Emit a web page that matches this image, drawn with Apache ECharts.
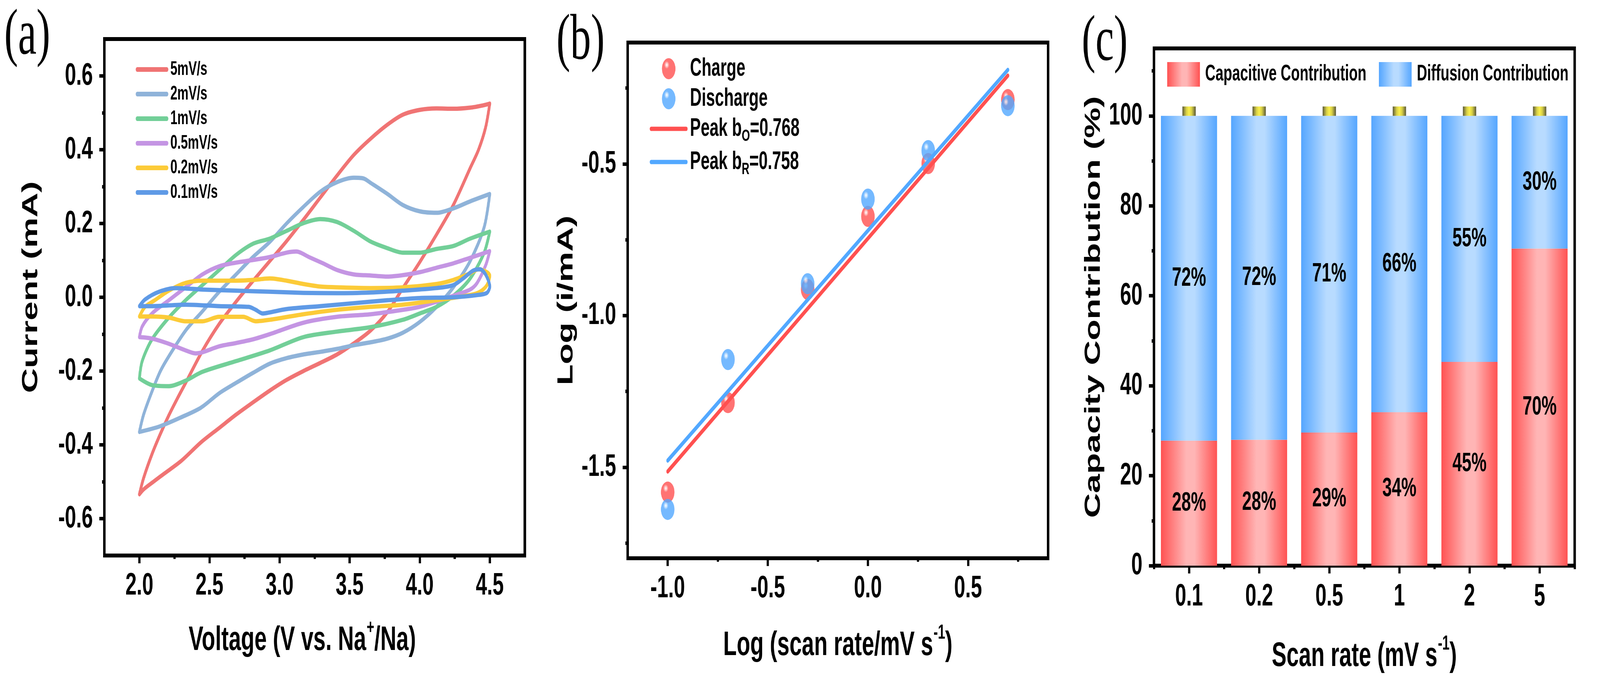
<!DOCTYPE html>
<html>
<head>
<meta charset="utf-8">
<script src="https://cdn.jsdelivr.net/npm/echarts@6/dist/echarts.min.js"></script>
<style>
html,body{margin:0;padding:0;background:#fff;overflow:hidden;}
#wrap{position:absolute;left:0;top:0;width:6378px;height:1747px;transform-origin:0 0;}
#chart{width:6378px;height:1747px;}
</style>
</head>
<body>
<div id="wrap"><div id="chart"></div></div>
<script>
// ---------------- DATA ----------------
// Panel (a): CV loops, [voltage (V), current (mA)]
const cv5 = [[2.0,-0.534],[2.03,-0.49],[2.09,-0.425],[2.15,-0.37],[2.21,-0.32],[2.27,-0.275],[2.33,-0.232],[2.45,-0.145],[2.57,-0.072],[2.69,-0.012],[2.81,0.044],[2.93,0.098],[3.05,0.152],[3.17,0.21],[3.29,0.27],[3.41,0.33],[3.53,0.386],[3.65,0.43],[3.77,0.468],[3.88,0.495],[4.0,0.508],[4.12,0.512],[4.24,0.511],[4.36,0.514],[4.45,0.52],[4.5,0.525],
  [4.47,0.46],[4.42,0.4],[4.36,0.35],[4.24,0.25],[4.12,0.17],[4.0,0.095],[3.88,0.025],[3.77,-0.04],[3.65,-0.09],[3.53,-0.125],[3.41,-0.155],[3.29,-0.178],[3.17,-0.2],[3.05,-0.224],[2.93,-0.253],[2.81,-0.285],[2.69,-0.318],[2.57,-0.354],[2.44,-0.393],[2.3,-0.443],[2.177,-0.478],[2.1,-0.5],[2.032,-0.52],[2.0,-0.534]];
const cv2 = [[2.0,-0.365],[2.03,-0.318],[2.09,-0.255],[2.15,-0.2],[2.21,-0.16],[2.33,-0.09],[2.45,-0.038],[2.57,0.015],[2.69,0.062],[2.81,0.109],[2.93,0.15],[3.05,0.2],[3.17,0.245],[3.29,0.286],[3.41,0.312],[3.53,0.324],[3.6,0.322],[3.65,0.31],[3.77,0.28],[3.88,0.25],[4.0,0.233],[4.12,0.229],[4.24,0.241],[4.36,0.26],[4.5,0.28],
  [4.46,0.19],[4.36,0.098],[4.24,0.027],[4.12,-0.026],[4.0,-0.067],[3.88,-0.096],[3.77,-0.112],[3.65,-0.122],[3.53,-0.13],[3.41,-0.14],[3.29,-0.148],[3.17,-0.155],[3.05,-0.165],[2.93,-0.18],[2.81,-0.205],[2.69,-0.232],[2.57,-0.26],[2.44,-0.299],[2.3,-0.325],[2.145,-0.35],[2.0,-0.365]];
const cv1 = [[2.0,-0.22],[2.02,-0.173],[2.09,-0.114],[2.21,-0.055],[2.33,-0.008],[2.45,0.033],[2.57,0.074],[2.69,0.115],[2.81,0.145],[2.93,0.159],[3.05,0.18],[3.17,0.201],[3.29,0.212],[3.41,0.204],[3.53,0.18],[3.65,0.151],[3.77,0.133],[3.88,0.121],[4.0,0.121],[4.12,0.131],[4.24,0.139],[4.36,0.159],[4.5,0.178],
  [4.46,0.121],[4.36,0.051],[4.24,0.004],[4.12,-0.026],[4.0,-0.044],[3.88,-0.061],[3.65,-0.081],[3.41,-0.093],[3.17,-0.108],[2.93,-0.144],[2.69,-0.173],[2.45,-0.202],[2.33,-0.226],[2.21,-0.241],[2.09,-0.238],[2.0,-0.22]];
const cv05 = [[2.0,-0.108],[2.02,-0.079],[2.09,-0.044],[2.21,-0.008],[2.33,0.027],[2.45,0.062],[2.57,0.084],[2.69,0.094],[2.81,0.101],[2.93,0.109],[3.05,0.121],[3.12,0.124],[3.21,0.109],[3.31,0.092],[3.41,0.074],[3.53,0.062],[3.65,0.059],[3.77,0.056],[3.88,0.06],[4.0,0.068],[4.12,0.08],[4.24,0.092],[4.36,0.107],[4.5,0.125],
  [4.47,0.086],[4.41,0.039],[4.36,0.021],[4.24,0.004],[4.12,-0.012],[4.0,-0.026],[3.88,-0.034],[3.65,-0.046],[3.41,-0.053],[3.17,-0.069],[2.93,-0.1],[2.81,-0.114],[2.69,-0.124],[2.57,-0.133],[2.45,-0.149],[2.4,-0.152],[2.33,-0.144],[2.21,-0.126],[2.09,-0.112],[2.0,-0.108]];
const cv02 = [[2.0,-0.052],[2.04,-0.026],[2.11,-0.008],[2.21,0.018],[2.33,0.039],[2.45,0.045],[2.57,0.045],[2.69,0.045],[2.81,0.047],[2.93,0.051],[3.05,0.045],[3.17,0.036],[3.29,0.029],[3.41,0.027],[3.65,0.025],[3.88,0.027],[4.12,0.036],[4.24,0.047],[4.36,0.065],[4.42,0.076],[4.48,0.068],[4.5,0.059],
  [4.48,0.033],[4.43,0.015],[4.36,0.006],[4.12,-0.008],[3.88,-0.02],[3.65,-0.026],[3.41,-0.034],[3.17,-0.046],[2.93,-0.061],[2.83,-0.065],[2.74,-0.053],[2.57,-0.053],[2.45,-0.065],[2.33,-0.065],[2.21,-0.055],[2.09,-0.052],[2.0,-0.052]];
const cv01 = [[2.0,-0.024],[2.04,-0.006],[2.14,0.015],[2.26,0.025],[2.45,0.021],[2.69,0.018],[2.93,0.015],[3.17,0.012],[3.41,0.011],[3.65,0.013],[3.88,0.018],[4.12,0.025],[4.24,0.033],[4.31,0.051],[4.38,0.072],[4.43,0.076],[4.47,0.062],[4.5,0.029],
  [4.48,0.012],[4.41,0.006],[4.24,0.0],[4.0,-0.002],[3.77,-0.008],[3.53,-0.016],[3.29,-0.024],[3.05,-0.032],[2.93,-0.041],[2.88,-0.044],[2.83,-0.034],[2.78,-0.026],[2.57,-0.024],[2.33,-0.02],[2.09,-0.024],[2.0,-0.024]];
const cvNames = ['5mV/s','2mV/s','1mV/s','0.5mV/s','0.2mV/s','0.1mV/s'];
const aTicksX = [2.0, 2.5, 3.0, 3.5, 4.0, 4.5];
const aTicksY = [-0.6, -0.4, -0.2, 0, 0.2, 0.4, 0.6];

// Panel (b): log(scan rate) vs log(peak current)
const logRate = [-1, -0.699, -0.301, 0, 0.301, 0.699];
const logCharge = [-1.582, -1.287, -0.914, -0.673, -0.499, -0.288];
const logDischarge = [-1.639, -1.145, -0.895, -0.616, -0.456, -0.308];
const fitChargeX = [-1, 0.699];
const fitChargeY = [-1.514, -0.209];
const fitDischargeX = [-1, 0.699];
const fitDischargeY = [-1.478, -0.190];
const bNames = ['Charge', 'Discharge', 'Peak bO=0.768', 'Peak bR=0.758'];
const bTicksX = [-1.0, -0.5, 0, 0.5];
const bTicksY = [-1.5, -1.0, -0.5];

// Panel (c): capacity contribution
const scanRates = ['0.1', '0.2', '0.5', '1', '2', '5'];
const capacitive = [27.8, 28.0, 29.6, 34.1, 45.3, 70.5];
const diffusion = [72.2, 72.0, 70.4, 65.9, 54.7, 29.5];
const capLabels = ['28%', '28%', '29%', '34%', '45%', '70%'];
const diffLabels = ['72%', '72%', '71%', '66%', '55%', '30%'];
const capBottom = [100, 100, 100, 100, 100, 100];
const capTop = [102.1, 102.1, 102.1, 102.1, 102.1, 102.1];
const cTicksY = [0, 20, 40, 60, 80, 100];

// ---------------- STYLE ----------------
const FONT = '"Liberation Sans", Arial, Helvetica, sans-serif';
const SERIF = '"Liberation Serif", "Times New Roman", serif';
const LG = echarts.graphic.LinearGradient;
const RG = echarts.graphic.RadialGradient;
const isMult = (v, s) => Math.abs(v / s - Math.round(v / s)) < 1e-6;

function tickStyle(ticks) {
  return {
    axisLine: {show: true, onZero: false, lineStyle: {color: '#000', width: 10}},
    axisTick: {show: true, inside: false, length: 20, customValues: ticks, lineStyle: {color: '#000', width: 9}},
    minorTick: {show: true, splitNumber: 2, length: 9, lineStyle: {color: '#000', width: 9}},
    splitLine: {show: false},
    minorSplitLine: {show: false},
    nameMoveOverlap: false
  };
}
const labelBase = {fontSize: 80, fontWeight: 'bold', color: '#000', fontFamily: FONT};
const richName = {
  m: {fontSize: 88, lineHeight: 88, fontWeight: 'bold', fontFamily: FONT, color: '#000', verticalAlign: 'top', padding: [14, 0, 0, 0]},
  s: {fontSize: 52, lineHeight: 52, fontWeight: 'bold', fontFamily: FONT, color: '#000', verticalAlign: 'top', padding: [0, 0, 0, 2]}
};
const yNameStyle = {fontSize: 88, fontWeight: 'bold', fontFamily: FONT, color: '#000'};

const cvColors = ['#f07474', '#8fb3d9', '#72cf98', '#c495e3', '#fccb38', '#5f9ae6'];
const cvData = [cv5, cv2, cv1, cv05, cv02, cv01];

function sphere(base, light) {
  return new RG(0.36, 0.32, 0.62, [
    {offset: 0, color: '#ffffff'},
    {offset: 0.12, color: light},
    {offset: 0.3, color: base},
    {offset: 1, color: base}
  ]);
}
const redGrad = () => new LG(0, 0, 1, 0, [
  {offset: 0, color: '#ff5252'}, {offset: 0.45, color: '#ffb5b5'}, {offset: 0.6, color: '#ffb5b5'}, {offset: 1, color: '#ff5252'}]);
const blueGrad = () => new LG(0, 0, 1, 0, [
  {offset: 0, color: '#55a6ff'}, {offset: 0.45, color: '#b8dbff'}, {offset: 0.6, color: '#b8dbff'}, {offset: 1, color: '#55a6ff'}]);
const yellowGrad = () => new LG(0, 0, 1, 0, [
  {offset: 0, color: '#5a5838'}, {offset: 0.3, color: '#d8d048'}, {offset: 0.5, color: '#fbf04c'}, {offset: 0.7, color: '#d8d048'}, {offset: 1, color: '#5a5838'}]);

const series = [];
cvData.forEach((d, i) => {
  series.push({
    name: cvNames[i], type: 'line', xAxisIndex: 0, yAxisIndex: 0, data: d,
    showSymbol: false, symbol: 'none', smooth: 0.3, color: cvColors[i],
    lineStyle: {color: cvColors[i], width: 11, cap: 'round', join: 'round'}, z: 2
  });
});
series.push({
  name: bNames[0], type: 'scatter', xAxisIndex: 1, yAxisIndex: 1,
  data: logRate.map((x, i) => [x, logCharge[i]]), symbol: 'circle', symbolSize: 54,
  itemStyle: {color: sphere('#ff5050', '#ffc4c4')}, z: 2
});
series.push({
  name: bNames[1], type: 'scatter', xAxisIndex: 1, yAxisIndex: 1,
  data: logRate.map((x, i) => [x, logDischarge[i]]), symbol: 'circle', symbolSize: 54,
  itemStyle: {color: sphere('#52a8ff', '#c4e2ff')}, z: 2
});
series.push({
  name: bNames[2], type: 'line', xAxisIndex: 1, yAxisIndex: 1,
  data: fitChargeX.map((x, i) => [x, fitChargeY[i]]), symbol: 'none', showSymbol: false, color: '#ff5050',
  lineStyle: {color: '#ff5050', width: 11, cap: 'round'}, z: 3
});
series.push({
  name: bNames[3], type: 'line', xAxisIndex: 1, yAxisIndex: 1,
  data: fitDischargeX.map((x, i) => [x, fitDischargeY[i]]), symbol: 'none', showSymbol: false, color: '#52a8ff',
  lineStyle: {color: '#52a8ff', width: 11, cap: 'round'}, z: 3
});
const barLabel = (arr) => ({
  show: true, position: 'inside', formatter: (p) => arr[p.dataIndex],
  fontSize: 68, fontWeight: 'bold', color: '#000', fontFamily: FONT, textBorderWidth: 0
});
series.push({
  name: 'Capacitive Contribution', type: 'bar', xAxisIndex: 2, yAxisIndex: 2, stack: 'cc',
  data: capacitive, barCategoryGap: '20%', itemStyle: {color: redGrad()}, label: barLabel(capLabels)
});
series.push({
  name: 'Diffusion Contribution', type: 'bar', xAxisIndex: 2, yAxisIndex: 2, stack: 'cc',
  data: diffusion, barCategoryGap: '20%', itemStyle: {color: blueGrad()}, label: barLabel(diffLabels)
});
series.push({
  name: 'cap', type: 'custom', xAxisIndex: 2, yAxisIndex: 2,
  data: scanRates.map((c, i) => [i, capBottom[i], capTop[i]]),
  encode: {x: 0, y: [1, 2]},
  renderItem: function (params, api) {
    const p0 = api.coord([api.value(0), api.value(1)]);
    const p1 = api.coord([api.value(0), api.value(2)]);
    const w = api.size([1, 0])[0] * 0.19;
    return {type: 'rect', shape: {x: p0[0] - w / 2, y: p1[1], width: w, height: p0[1] - p1[1]}, style: {fill: yellowGrad()}};
  },
  z: 3
});

const legendText = {fontSize: 50, fontWeight: 'bold', color: '#000', fontFamily: FONT};
const hiddenDot = {color: 'rgba(0,0,0,0)', borderWidth: 0, opacity: 0};
const option = {
  backgroundColor: '#ffffff',
  animation: false,
  title: [
    {text: '(a)', left: 17, top: 11, padding: 0, textStyle: {fontFamily: SERIF, fontSize: 165, fontWeight: 'normal', color: '#000'}},
    {text: '(b)', left: 2218, top: 24, padding: 0, textStyle: {fontFamily: SERIF, fontSize: 165, fontWeight: 'normal', color: '#000'}},
    {text: '(c)', left: 4312, top: 27, padding: 0, textStyle: {fontFamily: SERIF, fontSize: 165, fontWeight: 'normal', color: '#000'}}
  ],
  grid: [
    {left: 416, top: 100, width: 1676, height: 1323, show: true, borderColor: '#000', borderWidth: 10, backgroundColor: 'rgba(0,0,0,0)', containLabel: false, outerBoundsMode: 'none'},
    {left: 2502, top: 109, width: 1676, height: 1321, show: true, borderColor: '#000', borderWidth: 10, backgroundColor: 'rgba(0,0,0,0)', containLabel: false, outerBoundsMode: 'none'},
    {left: 4600, top: 124, width: 1677, height: 1325, show: true, borderColor: '#000', borderWidth: 10, backgroundColor: 'rgba(0,0,0,0)', containLabel: false, outerBoundsMode: 'none'}
  ],
  xAxis: [
    Object.assign(tickStyle(aTicksX), {
      type: 'value', gridIndex: 0, min: 1.75, max: 4.75, splitNumber: 6,
      axisLabel: Object.assign({margin: 38, customValues: aTicksX, formatter: v => isMult(v, 0.5) ? v.toFixed(1) : ''}, labelBase),
      name: '{m|Voltage (V vs. Na}{s|+}{m|/Na)}', nameLocation: 'middle', nameGap: 160,
      nameTextStyle: {rich: richName, padding: [0, 98, 0, 0]}
    }),
    Object.assign(tickStyle(bTicksX), {
      type: 'value', gridIndex: 1, min: -1.2, max: 0.9, splitNumber: 4,
      axisLabel: Object.assign({margin: 38, customValues: bTicksX, formatter: v => isMult(v, 0.5) ? v.toFixed(1) : ''}, labelBase),
      name: '{m|Log (scan rate/mV s}{s|-1}{m|)}', nameLocation: 'middle', nameGap: 166,
      nameTextStyle: {rich: richName}
    }),
    {
      type: 'category', gridIndex: 2, data: scanRates, position: 'bottom',
      axisLine: {show: true, onZero: false, lineStyle: {color: '#000', width: 10}},
      axisTick: {show: true, alignWithLabel: true, length: 20, lineStyle: {color: '#000', width: 9}},
      splitLine: {show: false},
      axisLabel: Object.assign({margin: 40}, labelBase),
      name: '{m|Scan rate (mV s}{s|-1}{m|)}', nameLocation: 'middle', nameGap: 175,
      nameTextStyle: {rich: richName}, nameMoveOverlap: false
    },
    {
      type: 'category', gridIndex: 2, data: scanRates, position: 'bottom',
      axisLine: {show: false}, axisLabel: {show: false}, splitLine: {show: false},
      axisTick: {show: true, alignWithLabel: false, length: 9, lineStyle: {color: '#000', width: 9}}
    }
  ],
  yAxis: [
    Object.assign(tickStyle(aTicksY), {
      type: 'value', gridIndex: 0, min: -0.7, max: 0.7, splitNumber: 7,
      axisLabel: Object.assign({margin: 46, customValues: aTicksY, formatter: v => isMult(v, 0.2) ? v.toFixed(1) : ''}, labelBase),
      name: 'Current (mA)', nameLocation: 'middle', nameGap: 248,
      nameTextStyle: Object.assign({padding: [0, 0, 0, 52]}, yNameStyle)
    }),
    Object.assign(tickStyle(bTicksY), {
      type: 'value', gridIndex: 1, min: -1.8, max: -0.1, splitNumber: 3,
      axisLabel: Object.assign({margin: 46, customValues: bTicksY, formatter: v => isMult(v, 0.5) ? v.toFixed(1) : ''}, labelBase),
      name: 'Log (i/mA)', nameLocation: 'middle', nameGap: 200,
      nameTextStyle: yNameStyle
    }),
    Object.assign(tickStyle(cTicksY), {
      type: 'value', gridIndex: 2, min: 0, max: 115, splitNumber: 6,
      axisLabel: Object.assign({margin: 46, customValues: cTicksY, formatter: v => isMult(v, 20) ? String(Math.round(v)) : ''}, labelBase),
      name: 'Capacity Contribution (%)', nameLocation: 'middle', nameGap: 196,
      nameTextStyle: yNameStyle
    })
  ],
  legend: [
    {
      data: cvNames, orient: 'vertical', left: 541, top: 153, itemWidth: 118, itemHeight: 12, itemGap: 13,
      padding: 0, textStyle: Object.assign({padding: [0, 0, 0, 9]}, legendText),
      lineStyle: {width: 12, cap: 'round'}, selectedMode: false
    },
    {
      data: [
        {name: bNames[0]},
        {name: bNames[1]},
        {name: bNames[2], itemStyle: hiddenDot},
        {name: bNames[3], itemStyle: hiddenDot}
      ],
      orient: 'vertical', left: 2590, top: 144, itemWidth: 140, itemHeight: 54, itemGap: 13,
      padding: 0, selectedMode: false,
      lineStyle: {width: 11, cap: 'round'},
      formatter: function (name) {
        if (name === bNames[2]) return '{m|Peak b}{s|O}{m|=0.768}';
        if (name === bNames[3]) return '{m|Peak b}{s|R}{m|=0.758}';
        return '{m|' + name + '}';
      },
      textStyle: {
        padding: [0, 0, 0, 10], fontSize: 64, fontWeight: 'bold', fontFamily: FONT, color: '#000',
        rich: {
          m: {fontSize: 64, lineHeight: 64, fontWeight: 'bold', fontFamily: FONT, color: '#000', verticalAlign: 'top'},
          s: {fontSize: 42, lineHeight: 42, fontWeight: 'bold', fontFamily: FONT, color: '#000', verticalAlign: 'top', padding: [30, 0, 0, 0]}
        }
      }
    },
    {
      data: ['Capacitive Contribution', 'Diffusion Contribution'], orient: 'horizontal', left: 4653, top: 159,
      itemWidth: 130, itemHeight: 63, itemGap: 50, icon: 'rect', padding: 0, selectedMode: false,
      textStyle: {padding: [0, 0, 0, 16], fontSize: 57, fontWeight: 'bold', fontFamily: FONT, color: '#000'}
    }
  ],
  series: series
};

// The drawing is laid out on a 6378x1747 canvas; fit it to the actual viewport.
const wrap = document.getElementById('wrap');
const sx = (window.innerWidth || 6378) / 6378;
const sy = (window.innerHeight || 1747) / 1747;
wrap.style.transform = 'scale(' + sx + ',' + sy + ')';

const chart = echarts.init(document.getElementById('chart'), null, {renderer: 'canvas', width: 6378, height: 1747});
chart.setOption(option);
</script>
</body>
</html>
